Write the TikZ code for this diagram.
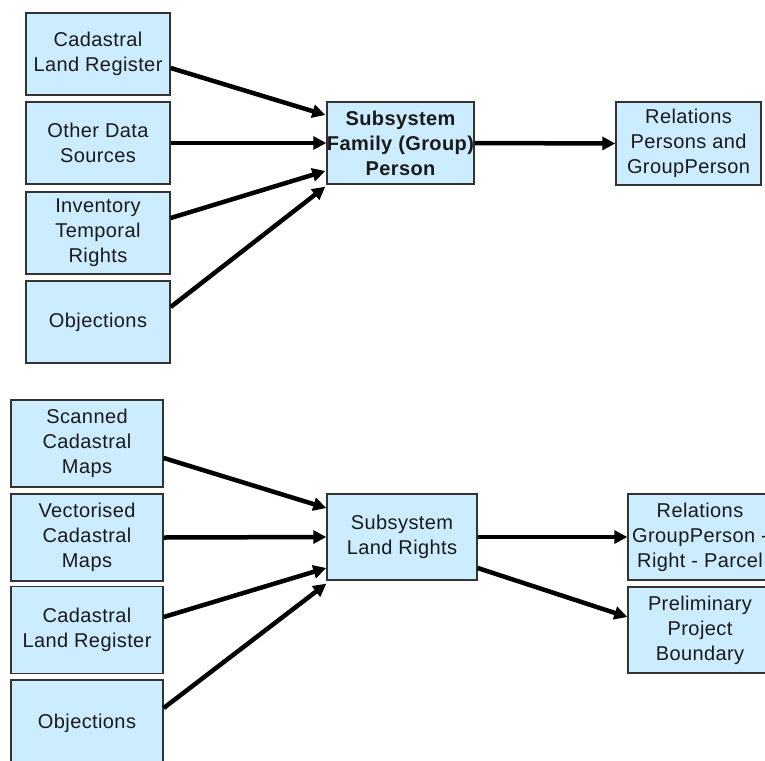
\documentclass[tikz,border=0pt]{standalone}
\usepackage{fontspec}
\setmainfont{Liberation Sans}[LetterSpace=2]
\usetikzlibrary{arrows.meta,calc}
\definecolor{boxfill}{HTML}{CCECFF}
\definecolor{boxline}{HTML}{333333}
\definecolor{txt}{HTML}{1A1A1A}
\begin{document}
\begin{tikzpicture}[x=1pt,y=-1pt,
  box/.style={draw=boxline,fill=boxfill,line width=1.4pt,inner sep=0pt,
    align=center,text=txt,font=\fontsize{20}{25}\selectfont},
  topbox/.style={box,minimum width=144pt,minimum height=82pt},
  botbox/.style={box,minimum width=152pt,minimum height=87pt},
  conn/.style={line width=4.5pt,-{Triangle[length=13pt,width=13pt]}}]
\clip (0,0) rectangle (765,760);
\fill[white] (0,0) rectangle (765,760);
% top group
\node[topbox] (c1) at (98,54) {Cadastral\\Land Register};
\node[topbox] (c2) at (98,143) {Other Data\\Sources};
\node[topbox] (c3) at (98,233) {Inventory\\Temporal\\Rights};
\node[topbox] (c4) at (98,322) {Objections};
\node[box,minimum width=145pt,minimum height=82pt,font=\fontsize{20}{25}\selectfont\bfseries] (s1) at (400.5,143) {Subsystem\\Family (Group)\\Person};
\node[box,minimum width=145pt,minimum height=83pt] (r1) at (688.5,143.5) {Relations\\Persons and\\GroupPerson};
% bottom group
\node[botbox] (b1) at (87,443.5) {Scanned\\Cadastral\\Maps};
\node[botbox] (b2) at (87,537.5) {Vectorised\\Cadastral\\Maps};
\node[botbox] (b3) at (87,630) {Cadastral\\Land Register};
\node[botbox] (b4) at (87,723.5) {Objections};
\node[box,minimum width=150pt,minimum height=86pt] (s2) at (402,537) {Subsystem\\Land Rights};
\node[box,minimum width=144pt,minimum height=86pt] (r2) at (700,537) {Relations\\GroupPerson -\\Right - Parcel};
\node[box,minimum width=144pt,minimum height=86pt] (p2) at (700,630) {Preliminary\\Project\\Boundary};
% top connectors
\draw[conn] ($(c1.east)+(0,14)$) -- ($(s1.west)+(-1,-28)$);
\draw[conn] (c2.east) -- (s1.west);
\draw[conn] ($(c3.east)+(0,-15)$) -- ($(s1.west)+(-1,28)$);
\draw[conn] ($(c4.east)+(0,-15)$) -- ($(s1.south west)+(-1,2)$);
\draw[conn] (s1.east) -- (r1.west);
% bottom connectors
\draw[conn] ($(b1.east)+(0,14.5)$) -- ($(s2.west)+(0,-29)$);
\draw[conn] (b2.east) -- (s2.west);
\draw[conn] ($(b3.east)+(0,-13)$) -- ($(s2.west)+(0,31)$);
\draw[conn] ($(b4.east)+(0,-15.5)$) -- ($(s2.south west)+(0,3)$);
\draw[conn] (s2.east) -- (r2.west);
\draw[conn] ($(s2.east)+(0,31)$) -- ($(p2.west)+(0,-13)$);
\end{tikzpicture}
\end{document}
